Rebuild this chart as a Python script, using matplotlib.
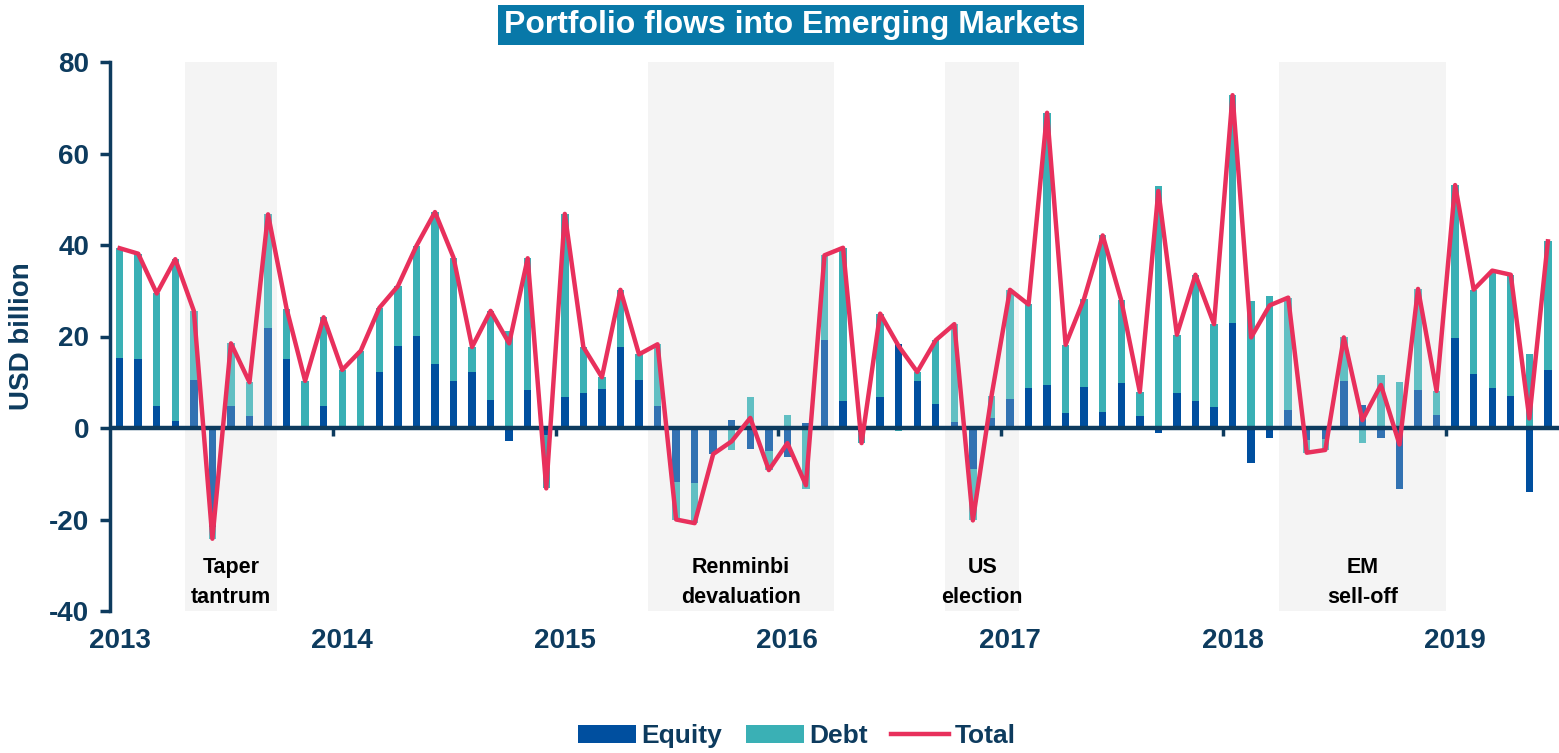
import matplotlib
matplotlib.use("Agg")
import matplotlib.pyplot as plt
from matplotlib.patches import Patch
from matplotlib.lines import Line2D
import numpy as np

plt.rcParams['font.family'] = ['Liberation Sans', 'DejaVu Sans']
plt.rcParams['font.weight'] = 'bold'
plt.rcParams['axes.unicode_minus'] = False

NAVY = '#0D3B5E'
EQUITY_C = '#004F9F'
DEBT_C = '#3AB0B5'
TOTAL_C = '#E8305C'
TITLE_BG = '#0878A8'

# monthly flows, Jan 2013 .. Jun 2019 (USD billion)
years = ['2013', '2014', '2015', '2016', '2017', '2018', '2019']
equity = [15.2, 15.0, 4.8, 1.6, 10.4, -21.7, 4.8, 2.7, 21.9, 15.0, 0.0, 4.75,
          0.0, 0.0, 12.25, 17.9, 20.2, 13.9, 10.25, 12.25, 6.2, -2.8, 8.3, -1.5,
          6.8, 7.75, 8.5, 17.7, 10.4, 4.75, -11.7, -12.1, -5.6, 1.8, -4.6, -5.0,
          -6.25, 1.0, 19.3, 5.8, -0.8, 6.8, 18.3, 10.2, 5.2, 1.25, -8.9, 2.25,
          6.4, 8.7, 9.3, 3.3, 9.0, 3.5, 9.75, 2.7, -1.0, 7.7, 6.0, 4.6,
          22.9, -7.75, -2.1, 4.0, -2.7, -2.5, 10.25, 5.0, -2.25, -13.3, 8.3, 2.9,
          19.6, 11.9, 8.75, 7.0, -14.0, 12.7]
debt = [24.1, 23.1, 24.6, 35.3, 15.2, -2.5, 13.7, 7.3, 24.8, 11.1, 10.3, 19.45,
        12.7, 16.9, 14.0, 13.1, 19.6, 33.3, 27.0, 5.45, 19.4, 21.3, 28.8, -11.7,
        40.0, 9.95, 2.6, 12.5, 5.7, 13.55, -8.3, -8.7, -0.1, -4.7, 6.8, -4.2,
        2.9, -13.3, 18.45, 33.6, -2.5, 18.2, -0.7, 2.05, 14.0, 21.45, -11.3, 4.65,
        23.8, 18.3, 59.6, 14.9, 19.3, 38.6, 18.15, 5.2, 52.9, 12.7, 27.5, 18.1,
        49.85, 27.7, 28.75, 24.5, -2.7, -2.3, 9.55, -3.2, 11.5, 10.0, 22.1, 5.2,
        33.5, 18.35, 25.65, 26.5, 16.25, 28.1]
total = [39.3, 38.1, 29.4, 36.9, 25.6, -24.2, 18.5, 10.0, 46.7, 26.1, 10.3, 24.2,
         12.7, 16.9, 26.25, 31.0, 39.8, 47.2, 37.25, 17.7, 25.6, 18.5, 37.1, -13.2,
         46.8, 17.7, 11.1, 30.2, 16.1, 18.3, -20.0, -20.8, -5.7, -2.9, 2.2, -9.2,
         -3.3, -12.5, 37.75, 39.4, -3.3, 25.0, 17.9, 12.25, 19.2, 22.7, -20.2, 6.9,
         30.2, 27.0, 68.9, 18.2, 28.3, 42.1, 27.9, 7.9, 51.8, 20.4, 33.5, 22.7,
         72.75, 19.8, 26.8, 28.5, -5.4, -4.8, 19.8, 1.7, 9.4, -3.6, 30.4, 8.1,
         53.1, 30.25, 34.4, 33.5, 2.1, 40.8]

# shaded episodes: (first month index, last month index, label)
episodes = [(4, 8, 'Taper\ntantrum'),
            (29, 38, 'Renminbi\ndevaluation'),
            (45, 48, 'US\nelection'),
            (63, 71, 'EM\nsell-off')]

equity = np.array(equity)
debt = np.array(debt)
x = np.arange(len(equity))
# debt stacks on equity when both have the same sign, otherwise starts at zero
debt_bottom = np.where(np.sign(debt) == np.sign(equity), equity, 0)

fig = plt.figure(figsize=(15.59, 7.53), dpi=100)
ax = fig.add_axes([110 / 1559, 1 - 611 / 753, 1 - 110 / 1559, (611 - 62) / 753])

for start, end, label in episodes:
    ax.axvspan(start - 0.5, end + 0.5, color='#F2F2F2', zorder=0, lw=0)
    ax.axvspan(start - 0.5, end + 0.5, color='white', alpha=0.2, zorder=3, lw=0)
    ax.text((start + end) / 2, -33.8, label, ha='center', va='center',
            fontsize=15.5, fontweight='bold', color='black', linespacing=1.55, zorder=6)

ax.bar(x, equity, width=0.4, color=EQUITY_C, zorder=2)
ax.bar(x, debt, width=0.4, bottom=debt_bottom, color=DEBT_C, zorder=2)
ax.axhline(0, color=NAVY, lw=3.2, zorder=4)
ax.vlines(np.arange(11.5, len(x), 12), -1.8, 0, color=NAVY, lw=2.5, zorder=4)
ax.plot(x, total, color=TOTAL_C, lw=3.2, zorder=5, solid_joinstyle='round')

ax.set_xlim(-0.52, 77.6)
ax.set_ylim(-40, 80)
ax.set_yticks(np.arange(-40, 81, 20))
ax.set_xticks(np.arange(0, len(x), 12))
ax.set_xticklabels(years)
ax.tick_params(axis='x', length=0, pad=12, labelsize=20, labelcolor=NAVY)
ax.tick_params(axis='y', length=7, width=2.5, color=NAVY, pad=8,
               labelsize=20, labelcolor=NAVY)
for lbl in ax.get_xticklabels() + ax.get_yticklabels():
    lbl.set_fontweight('bold')
for side in ['top', 'right', 'bottom']:
    ax.spines[side].set_visible(False)
ax.spines['left'].set_color(NAVY)
ax.spines['left'].set_linewidth(2.5)
ax.set_ylabel('USD billion', fontsize=20, fontweight='bold', color=NAVY, labelpad=10)

fig.text(791 / 1559, 1 - 25 / 753, 'Portfolio flows into Emerging Markets',
         ha='center', va='center', fontsize=23, fontweight='bold', color='white',
         bbox=dict(boxstyle='square,pad=0.17', facecolor=TITLE_BG, edgecolor='none'))

handles = [Patch(facecolor=EQUITY_C, label='Equity'),
           Patch(facecolor=DEBT_C, label='Debt'),
           Line2D([0], [0], color=TOTAL_C, lw=3.2, label='Total')]
leg = fig.legend(handles=handles, loc='lower center', bbox_to_anchor=(0.511, -0.025),
                 ncol=3, frameon=False, handlelength=2.2, columnspacing=0.9,
                 handletextpad=0.2, prop={'size': 19, 'weight': 'bold'})
for t in leg.get_texts():
    t.set_color(NAVY)

fig.savefig('out.png', dpi=100)
